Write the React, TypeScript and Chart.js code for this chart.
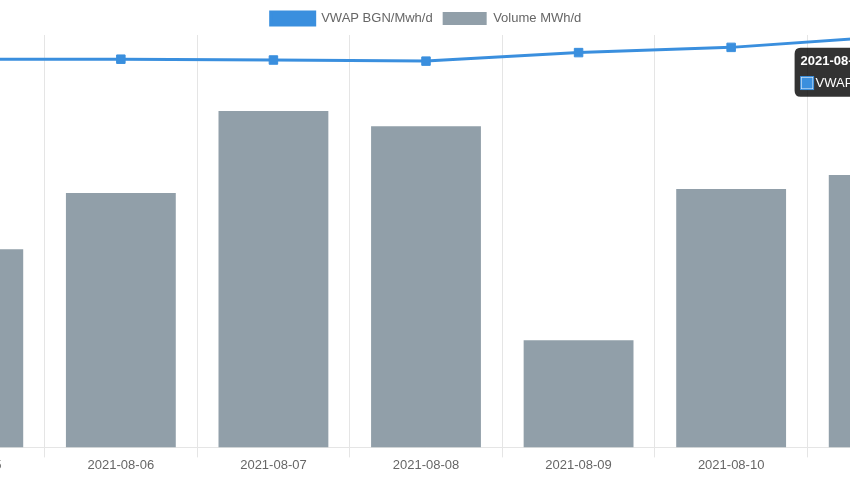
import React, { useEffect, useRef } from "react";
import { Chart, registerables } from "chart.js";

Chart.register(...registerables);

const categories = [
  "2021-08-05",
  "2021-08-06",
  "2021-08-07",
  "2021-08-08",
  "2021-08-09",
  "2021-08-10",
  "2021-08-11",
];
const vwapValues = [141.2, 141.2, 140.9, 140.5, 143.6, 145.5, 149.4];
const volumeValues = [14420, 18500, 24470, 23370, 7790, 18790, 19810];

const BLUE = "#3a8fde";
const GRAY = "#919fa9";

export default function App() {
  const ref = useRef<HTMLCanvasElement | null>(null);

  useEffect(() => {
    if (!ref.current) return;
    Chart.defaults.font.family = "'Liberation Sans', Arial, Helvetica, sans-serif";
    Chart.defaults.font.size = 13;
    Chart.defaults.color = "#666";
    const chart = new Chart(ref.current, {
      type: "bar",
      data: {
        labels: categories,
        datasets: [
          {
            type: "line",
            label: "VWAP BGN/Mwh/d",
            data: vwapValues,
            yAxisID: "y1",
            borderColor: BLUE,
            backgroundColor: BLUE,
            borderWidth: 3,
            pointStyle: "rect",
            pointRadius: 6,
            pointBorderWidth: 1,
            pointBackgroundColor: BLUE,
            pointBorderColor: BLUE,
            tension: 0,
            fill: false,
          },
          {
            type: "bar",
            label: "Volume MWh/d",
            data: volumeValues,
            yAxisID: "y",
            backgroundColor: GRAY,
            borderColor: GRAY,
            borderWidth: 0,
          },
        ],
      },
      options: {
        responsive: false,
        animation: false,
        devicePixelRatio: 1,
        layout: { padding: { left: 12, right: 20, top: 2, bottom: 7 } },
        plugins: {
          legend: {
            position: "top",
            labels: {
              boxWidth: 44,
              boxHeight: 13,
              padding: 10,
              color: "#666",
              font: { size: 13 },
            },
          },
          tooltip: {
            enabled: true,
            xAlign: "center",
            yAlign: "top",
            caretPadding: 6,
            backgroundColor: "rgba(0,0,0,0.8)",
            titleFont: { size: 13, weight: "bold" },
            bodyFont: { size: 13 },
            callbacks: {
              label: (ctx: any) =>
                `${ctx.dataset.label}: ${Number(ctx.parsed.y).toFixed(1)}`,
            },
          },
        },
        scales: {
          x: {
            offset: true,
            grid: {
              display: true,
              color: "rgba(0,0,0,0.1)",
              offset: true,
              tickLength: 10,
            },
            border: { display: true, color: "rgba(0,0,0,0.1)" },
            ticks: { color: "#666", font: { size: 13 }, padding: 0, maxRotation: 0, autoSkip: false },
          },
          y: {
            display: false,
            min: 0,
            max: 30000,
          },
          y1: {
            display: false,
            min: 0,
            max: 150,
          },
        },
      },
    });

    const meta = chart.getDatasetMeta(0);
    const el: any = meta.data[6];
    if (el) {
      chart.tooltip?.setActiveElements([{ datasetIndex: 0, index: 6 }], { x: el.x, y: el.y });
      chart.update();
    }

    return () => chart.destroy();
  }, []);

  return (
    <div
      style={{
        position: "fixed",
        left: 0,
        top: 0,
        width: 850,
        height: 480,
        overflow: "hidden",
        background: "#fff",
      }}
    >
      <canvas
        ref={ref}
        width={1100}
        height={480}
        style={{ position: "absolute", left: -120, top: 0, width: 1100, height: 480 }}
      />
    </div>
  );
}
